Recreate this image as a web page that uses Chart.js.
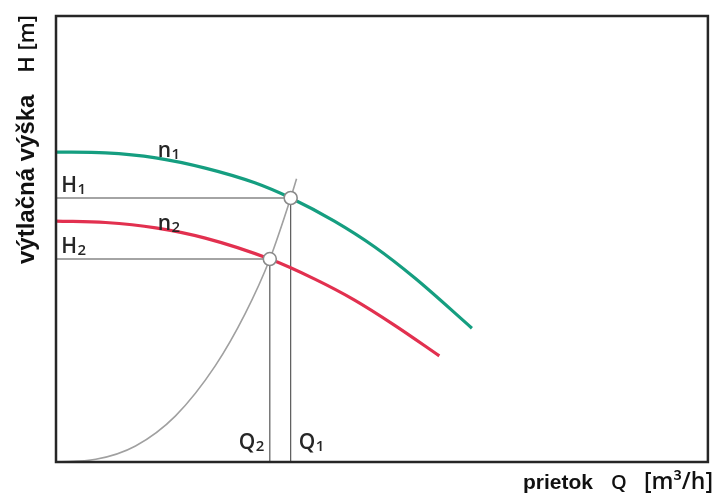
<!DOCTYPE html>
<html>
<head>
<meta charset="utf-8">
<script src="https://cdn.jsdelivr.net/npm/chart.js@4/dist/chart.umd.min.js"></script>
<style>
  html, body { margin: 0; padding: 0; background: #ffffff; }
  canvas { display: block; }
</style>
</head>
<body>
<canvas id="c" width="716" height="499"></canvas>
<script>
// Pump curve n1 (green)
const Q_N1 = [0, 7.6, 15.3, 22.9, 30.5, 36.0, 42.7, 48.9, 55.0, 63.8];
const H_N1 = [69.5, 69.3, 68.2, 65.9, 62.6, 59.2, 54.0, 48.2, 41.3, 30.0];
// Pump curve n2 (red)
const Q_N2 = [0, 7.6, 15.3, 22.9, 32.8, 39.7, 45.8, 51.9, 58.8];
const H_N2 = [54.0, 53.7, 52.5, 50.2, 45.5, 41.0, 36.3, 30.7, 23.8];
// System curve (gray)
const Q_SYS = [0, 6.1, 12.2, 18.3, 24.4, 29.0, 32.8, 36.0, 36.9];
const H_SYS = [0, 0.6, 3.6, 10.3, 21.5, 33.2, 45.5, 59.2, 63.5];
// Operating points
const Q_OP = [36.0, 32.8];
const H_OP = [59.2, 45.5];
const OP_NAMES = ["1", "2"];
// Text labels
const CURVE_LABELS = ["n", "n"];

const pts = (xs, ys) => xs.map((x, i) => ({ x: x, y: ys[i] }));

const datasets = [
  {
    label: 'operating points',
    data: pts(Q_OP, H_OP),
    showLine: false,
    pointRadius: 6.5,
    pointBackgroundColor: '#ffffff',
    pointBorderColor: '#8a8a8a',
    pointBorderWidth: 1.6,
    order: 0
  },
  {
    label: 'n1',
    data: pts(Q_N1, H_N1),
    showLine: true,
    borderColor: '#159e80',
    borderWidth: 3.2,
    pointRadius: 0,
    cubicInterpolationMode: 'monotone',
    order: 2
  },
  {
    label: 'n2',
    data: pts(Q_N2, H_N2),
    showLine: true,
    borderColor: '#e2304f',
    borderWidth: 3.2,
    pointRadius: 0,
    cubicInterpolationMode: 'monotone',
    order: 2
  },
  {
    label: 'system',
    data: pts(Q_SYS, H_SYS),
    showLine: true,
    borderColor: '#a0a0a0',
    borderWidth: 1.6,
    pointRadius: 0,
    cubicInterpolationMode: 'monotone',
    order: 3
  }
];
// guide lines H1/Q1, H2/Q2
Q_OP.forEach((q, i) => {
  datasets.push({
    label: 'guide' + i,
    data: [{ x: 0, y: H_OP[i] }, { x: q, y: H_OP[i] }, { x: q, y: 0 }],
    showLine: true,
    borderColor: '#4a4a4a',
    borderWidth: 1.1,
    pointRadius: 0,
    tension: 0,
    order: 4
  });
});

function drawSub(ctx, base, sub, x, y) {
  ctx.font = '600 21px "Open Sans"';
  ctx.textAlign = 'left';
  ctx.textBaseline = 'alphabetic';
  ctx.fillText(base, x, y);
  const w = ctx.measureText(base).width;
  ctx.font = '600 15px "Open Sans"';
  ctx.fillText(sub, x + w + 0.5, y + 2);
}

const overlay = {
  id: 'overlay',
  afterDraw(chart) {
    const ctx = chart.ctx;
    const xs = chart.scales.x, ys = chart.scales.y;
    const a = chart.chartArea;
    ctx.save();
    // frame
    ctx.strokeStyle = '#262626';
    ctx.lineWidth = 2.5;
    ctx.strokeRect(a.left, a.top, a.right - a.left, a.bottom - a.top);

    ctx.fillStyle = '#262626';
    // curve labels
    drawSub(ctx, CURVE_LABELS[0], '1', xs.getPixelForValue(15.6), ys.getPixelForValue(68.4));
    drawSub(ctx, CURVE_LABELS[1], '2', xs.getPixelForValue(15.6), ys.getPixelForValue(52.0));
    // H labels
    drawSub(ctx, 'H', OP_NAMES[0], xs.getPixelForValue(0.8), ys.getPixelForValue(H_OP[0]) - 6);
    drawSub(ctx, 'H', OP_NAMES[1], xs.getPixelForValue(0.8), ys.getPixelForValue(H_OP[1]) - 6);
    // Q labels
    drawSub(ctx, 'Q', OP_NAMES[1], xs.getPixelForValue(Q_OP[1]) - 31, ys.getPixelForValue(0) - 13);
    drawSub(ctx, 'Q', OP_NAMES[0], xs.getPixelForValue(Q_OP[0]) + 8, ys.getPixelForValue(0) - 13);

    // x axis title
    ctx.fillStyle = '#111111';
    ctx.textBaseline = 'alphabetic';
    ctx.textAlign = 'left';
    ctx.font = 'bold 21px "Liberation Sans"';
    ctx.fillText('prietok', 523, 489);
    ctx.font = '600 20px "Open Sans"';
    ctx.fillText('Q', 611, 489);
    ctx.textAlign = 'right';
    ctx.font = '600 23px "Open Sans"';
    ctx.fillText('[m³/h]', 713, 489);

    // y axis title
    ctx.translate(34, 264);
    ctx.rotate(-Math.PI / 2);
    ctx.textAlign = 'left';
    ctx.font = 'bold 24px "Liberation Sans"';
    ctx.fillText('výtlačná výška', 0, 0);
    ctx.textAlign = 'right';
    ctx.font = '600 22px "Open Sans"';
    ctx.fillText('H [m]', 249, 0);
    ctx.restore();
  }
};

new Chart(document.getElementById('c'), {
  type: 'scatter',
  data: { datasets: datasets },
  options: {
    responsive: false,
    animation: false,
    devicePixelRatio: 1,
    layout: { padding: { left: 56, top: 16, right: 5, bottom: 37 } },
    plugins: { legend: { display: false }, tooltip: { enabled: false } },
    scales: {
      x: { type: 'linear', min: 0, max: 100, display: false },
      y: { type: 'linear', min: 0, max: 100, display: false }
    }
  },
  plugins: [overlay]
});
</script>
</body>
</html>
